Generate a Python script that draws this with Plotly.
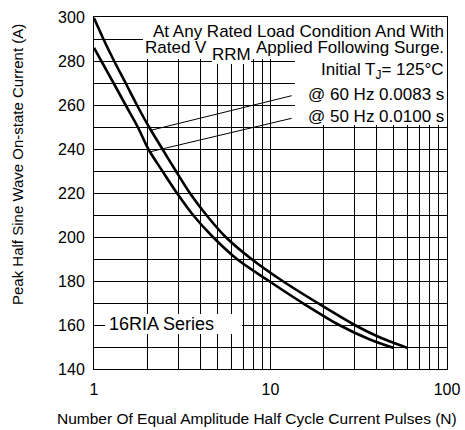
import plotly.graph_objects as go

# ---- data ----
pulses_60hz = [1, 1.13, 1.3, 1.51, 1.75, 2.05, 2.44, 2.91, 3.49, 4.33, 5.57, 7.8, 11.7, 18.5, 30, 40, 60]
current_60hz = [299.5, 290, 280, 270, 260, 250, 240, 230, 220, 210, 200, 190, 180, 170, 160, 155, 149.5]

pulses_50hz = [1, 1.1, 1.29, 1.51, 1.77, 2.03, 2.44, 2.95, 3.64, 4.72, 6.45, 9.8, 15.2, 24.5, 36.3, 50]
current_50hz = [286, 280, 270, 260, 250, 240, 230, 220, 210, 200, 190, 180, 170, 160, 153.5, 149.5]

x_tickvals = [1, 2, 3, 4, 5, 6, 7, 8, 9, 10, 20, 30, 40, 50, 60, 70, 80, 90, 100]
x_ticktext = ["1", "", "", "", "", "", "", "", "", "10", "", "", "", "", "", "", "", "", "100"]
y_tickvals = list(range(140, 301, 10))
y_ticktext = [str(v) if v % 20 == 0 else "" for v in y_tickvals]

# ---- layout geometry (pixels) ----
WIDTH, HEIGHT = 465, 430
L, R, T, B = 94, 447, 17, 369
PW, PH = R - L, B - T


def px(x):
    return (x - L) / PW


def py(y):
    return (B - y) / PH


FONT = "Arial, Liberation Sans, sans-serif"

fig = go.Figure()
for xs, ys in [(pulses_60hz, current_60hz), (pulses_50hz, current_50hz)]:
    fig.add_trace(go.Scatter(
        x=xs, y=ys, mode="lines",
        line=dict(color="black", width=2.6, shape="spline", smoothing=0.9),
        showlegend=False, hoverinfo="skip",
    ))

# leader lines
for (x0, y0, x1, y1) in [(291.7, 95.7, 152, 130), (291.7, 118.3, 150.5, 151.7)]:
    fig.add_shape(type="line", xref="paper", yref="paper",
                  x0=px(x0), y0=py(y0), x1=px(x1), y1=py(y1),
                  line=dict(color="black", width=1), layer="above")

# white boxes that hide the grid behind the texts
boxes = [
    (143, 17, 447, 59),
    (212, 58, 251, 64),
    (295, 58, 447, 125),
    (105, 314, 242, 334),
]
for x0, y0, x1, y1 in boxes:
    fig.add_annotation(text=" ", xref="paper", yref="paper", x=px(x0), y=py(y0),
                       xanchor="left", yanchor="top", width=x1 - x0, height=y1 - y0,
                       bgcolor="white", borderpad=0, borderwidth=0, showarrow=False)

TS = 17
texts = [
    ("At Any Rated Load Condition And With", 446, 31, "right", TS),
    ("Rated V", 143, 48, "left", TS),
    ("RRM", 231.5, 55, "center", TS),
    ("Applied Following Surge.", 446, 48, "right", TS),
    ("Initial T<sub>J</sub>= 125°C", 446, 71, "right", TS),
    ("@ 60 Hz 0.0083 s", 446, 94, "right", TS),
    ("@ 50 Hz 0.0100 s", 446, 116, "right", TS),
    ("16RIA Series", 107, 324, "left", 18),
]
for txt, x, y, anchor, size in texts:
    fig.add_annotation(text=txt, xref="paper", yref="paper", x=px(x), y=py(y),
                       xanchor=anchor, yanchor="middle", showarrow=False,
                       font=dict(family=FONT, size=size, color="black"))

# axis titles
fig.add_annotation(text="Peak Half Sine Wave On-state Current (A)", xref="paper", yref="paper",
                   x=px(17), y=py(165), xanchor="center", yanchor="middle", textangle=-90,
                   showarrow=False, font=dict(family=FONT, size=15, color="black"))
fig.add_annotation(text="Number Of Equal Amplitude Half Cycle Current Pulses (N)", xref="paper", yref="paper",
                   x=px(256.5), y=py(418), xanchor="center", yanchor="middle",
                   showarrow=False, font=dict(family=FONT, size=15.5, color="black"))

fig.update_layout(
    width=WIDTH, height=HEIGHT,
    margin=dict(l=L, r=WIDTH - R, t=T, b=HEIGHT - B, pad=0, autoexpand=False),
    paper_bgcolor="white", plot_bgcolor="white",
    font=dict(family=FONT, size=14, color="black"),
    hovermode=False,
    xaxis=dict(type="log", range=[0, 2], tickvals=x_tickvals, ticktext=x_ticktext,
               showgrid=True, gridcolor="black", gridwidth=1, automargin=False,
               showline=True, linecolor="black", linewidth=1, mirror=True,
               ticks="outside", ticklen=6, tickcolor="rgba(0,0,0,0)",
               tickfont=dict(family=FONT, size=16), zeroline=False),
    yaxis=dict(range=[140, 300], tickvals=y_tickvals, ticktext=y_ticktext,
               showgrid=True, gridcolor="black", gridwidth=1, automargin=False,
               showline=True, linecolor="black", linewidth=1, mirror=True,
               ticks="outside", ticklen=5, tickcolor="rgba(0,0,0,0)",
               tickfont=dict(family=FONT, size=16), zeroline=False),
)

fig.write_html("out.html",
               config={"displayModeBar": False, "staticPlot": True},
               post_script="document.body.style.margin='0';document.body.style.overflow='hidden';")
